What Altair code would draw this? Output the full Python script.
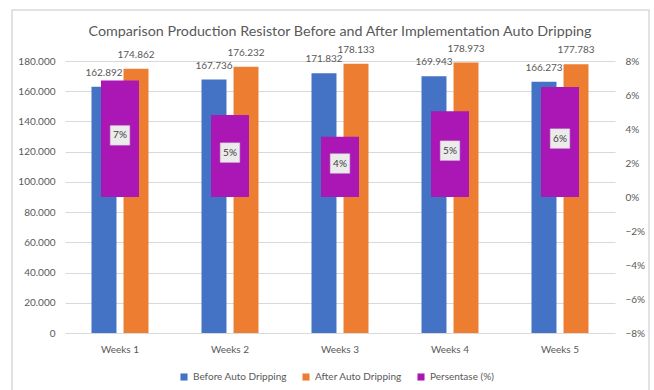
import altair as alt
import pandas as pd

weeks = ["Weeks 1", "Weeks 2", "Weeks 3", "Weeks 4", "Weeks 5"]
before = [162892, 167736, 171832, 169943, 166273]
after = [174862, 176232, 178133, 178973, 177783]
pct = [0.0685, 0.0482, 0.0354, 0.0505, 0.0647]
pct_labels = ["7%", "5%", "4%", "5%", "6%"]
left_ticks = [0, 20000, 40000, 60000, 80000, 100000, 120000, 140000, 160000, 180000]
right_ticks = [-0.08, -0.06, -0.04, -0.02, 0, 0.02, 0.04, 0.06, 0.08]

series = ["Before Auto Dripping", "After Auto Dripping", "Persentase (%)"]
colors = ["#4472C4", "#ED7D31", "#AA17B4"]

rows = []
for w, b, a in zip(weeks, before, after):
    rows.append({"week": w, "series": series[0], "value": b})
    rows.append({"week": w, "series": series[1], "value": a})
bars_df = pd.DataFrame(rows)
pct_df = pd.DataFrame({"week": weeks, "series": series[2], "pct": pct, "label": pct_labels})

W, H = 550, 272
grey = "#595959"
FONT = "Lato"

xscale = alt.Scale(domain=weeks, paddingInner=0.482, paddingOuter=0.241)
xaxis = alt.Axis(title=None, domain=False, ticks=False, labelColor=grey, labelFontSize=10,
                 labelPadding=11, labelFont=FONT, labelAngle=0, labelOverlap=False)
color = alt.Color("series:N", scale=alt.Scale(domain=series, range=colors),
                  legend=alt.Legend(title=None, orient="none", legendX=114, legendY=311,
                                    direction="horizontal",
                                    symbolType="square", symbolSize=50, labelColor=grey,
                                    labelFontSize=10, labelFont=FONT, columnPadding=14,
                                    labelOverlap=False))
yleft_scale = alt.Scale(domain=[0, 180000], nice=False)
yleft_axis = alt.Axis(title=None, values=left_ticks, tickCount=20, domain=False, ticks=False,
                      labelColor=grey, labelFontSize=10, labelFont=FONT, labelPadding=10,
                      gridColor="#d9d9d9", labelOverlap=False,
                      labelExpr="replace(format(datum.value, ','), ',', '.')")

base = alt.Chart(bars_df)
xo = alt.XOffset("series:N", scale=alt.Scale(domain=series[:2], paddingInner=0.22))

bars = base.mark_bar().encode(
    x=alt.X("week:N", scale=xscale, axis=xaxis),
    xOffset=xo,
    y=alt.Y("value:Q", scale=yleft_scale, axis=yleft_axis),
    color=color,
)
bar_text = base.transform_calculate(
    txt="replace(format(datum.value, ','), ',', '.')"
).mark_text(dy=-14, fontSize=10, color=grey, font=FONT).encode(
    x=alt.X("week:N", scale=xscale),
    xOffset=xo,
    y=alt.Y("value:Q", scale=yleft_scale),
    text="txt:N",
)
left = alt.layer(bars, bar_text)

yr_scale = alt.Scale(domain=[-0.08, 0.08], nice=False)
yr_axis = alt.Axis(title=None, orient="right", format=".0%", values=right_ticks, tickCount=20,
                   domain=False, ticks=False, grid=False, labelColor=grey, labelFontSize=10,
                   labelFont=FONT, labelPadding=10, labelOverlap=False)
pbase = alt.Chart(pct_df)
pbar = pbase.mark_bar(size=38).encode(
    x=alt.X("week:N", scale=xscale),
    y=alt.Y("pct:Q", scale=yr_scale, axis=yr_axis),
    y2=alt.datum(0),
    color=color,
)
pbox = pbase.transform_calculate(mid="datum.pct / 2 + 0.002").mark_square(
    size=380, fill="#ebebeb", opacity=1, stroke="#d0d0d0", strokeWidth=0.5
).encode(
    x=alt.X("week:N", scale=xscale),
    y=alt.Y("mid:Q", scale=yr_scale),
)
ptext = pbase.transform_calculate(mid="datum.pct / 2 + 0.002").mark_text(
    fontSize=10, color="#404040", font=FONT
).encode(
    x=alt.X("week:N", scale=xscale),
    y=alt.Y("mid:Q", scale=yr_scale),
    text="label:N",
)
right = alt.layer(pbar, pbox, ptext)

frame = alt.Chart(pd.DataFrame({"a": [0]})).mark_rect(
    fill=None, stroke="#d9d9d9", strokeWidth=1.5
).encode(x=alt.value(-53), x2=alt.value(584), y=alt.value(-51), y2=alt.value(335))

chart = alt.layer(left, right, frame).resolve_scale(y="independent").properties(
    width=W, height=H,
    background="white",
    title=alt.TitleParams(
        "Comparison Production Resistor Before and After Implementation Auto Dripping",
        fontSize=14.3, font=FONT, color=grey, fontWeight="normal", offset=-30,
        anchor="middle", frame="group"),
    padding={"left": 65, "top": 61, "right": 39, "bottom": 57},
    autosize=alt.AutoSizeParams(type="none"),
).configure_view(stroke=None).configure_axis(labelOverlap=False)

chart.save("out.html", embed_options={"renderer": "svg", "actions": False})
